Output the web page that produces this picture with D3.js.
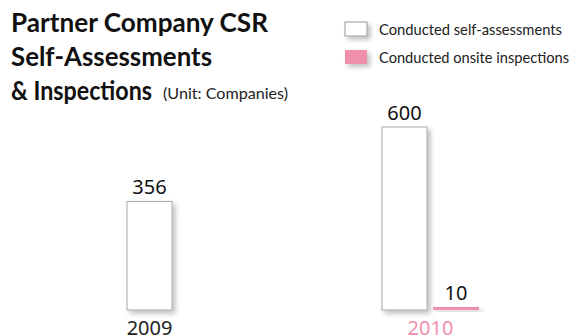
<!DOCTYPE html>
<html>
<head>
<meta charset="utf-8">
<script src="https://cdn.jsdelivr.net/npm/d3@7"></script>
<style>
  html, body { margin: 0; padding: 0; background: #fff; }
  svg { display: block; }
</style>
</head>
<body>
<div id="chart"></div>
<script>
// Partner company CSR activity by year
const years = ["2009", "2010"];
const selfAssessments = [356, 600];
const onsiteInspections = [null, 10];
const seriesNames = ["Conducted self-assessments", "Conducted onsite inspections"];
const titleLines = ["Partner Company CSR", "Self-Assessments", "& Inspections"];
const unitLabel = "(Unit: Companies)";

const W = 576, H = 336;
const pink = "#f08fab";
const svg = d3.select("#chart").append("svg").attr("width", W).attr("height", H);

const defs = svg.append("defs");
const f = defs.append("filter").attr("id", "shadow")
  .attr("x", "-30%").attr("y", "-30%").attr("width", "180%").attr("height", "180%");
f.append("feDropShadow").attr("dx", 3).attr("dy", 3).attr("stdDeviation", 2.5)
  .attr("flood-color", "#000").attr("flood-opacity", 0.25);

// Title
const title = svg.append("g").attr("font-family", "Lato, sans-serif")
  .attr("font-weight", 700).attr("fill", "#111");
const titleBase = [32, 66, 100];
const titleWidths = [257, 201, 141];
titleLines.forEach((t, i) => {
  title.append("text").attr("x", 11).attr("y", titleBase[i])
    .attr("font-size", 26).attr("textLength", titleWidths[i])
    .attr("lengthAdjust", "spacingAndGlyphs").text(t);
});
svg.append("text").attr("x", 163).attr("y", 99)
  .attr("font-family", "Lato, sans-serif").attr("font-size", 15)
  .attr("fill", "#222").attr("textLength", 125).attr("lengthAdjust", "spacingAndGlyphs")
  .text(unitLabel);

// Legend
const legend = svg.append("g");
const legendRows = [
  { y: 22, fill: "#fff", stroke: "#999", width: 183 },
  { y: 50, fill: pink, stroke: "none", width: 190 }
];
legendRows.forEach((r, i) => {
  legend.append("rect").attr("x", 345).attr("y", r.y).attr("width", 22).attr("height", 14)
    .attr("fill", r.fill).attr("stroke", r.stroke).attr("filter", "url(#shadow)");
  legend.append("text").attr("x", 379).attr("y", r.y + 13)
    .attr("font-family", "Lato, sans-serif").attr("font-size", 15).attr("fill", "#222")
    .attr("textLength", r.width).attr("lengthAdjust", "spacingAndGlyphs")
    .text(seriesNames[i]);
});

// Scales
const baseY = 310;
const y = d3.scaleLinear().domain([0, 600]).range([baseY, 127]);
const x = d3.scaleBand().domain(years).range([127, 637]).paddingInner(0).paddingOuter(0);
const barW = 45, gap = 6, pinkW = 46;

const groups = svg.append("g").selectAll("g").data(years).join("g")
  .attr("transform", d => `translate(${x(d)},0)`);

years.forEach((yr, i) => {
  const g = groups.filter(d => d === yr);
  const vS = selfAssessments[i];
  const vO = onsiteInspections[i];
  g.append("rect").attr("x", 0).attr("y", y(vS)).attr("width", barW)
    .attr("height", baseY - y(vS)).attr("fill", "#fff").attr("stroke", "#a8a8a8")
    .attr("stroke-width", 1).attr("filter", "url(#shadow)");
  g.append("text").attr("x", barW / 2).attr("y", y(vS) - 7).attr("text-anchor", "middle")
    .attr("font-family", "'Noto Sans', sans-serif").attr("font-size", 20).attr("fill", "#111")
    .text(vS);
  let center = barW / 2;
  if (vO != null) {
    const ox = barW + gap;
    g.append("rect").attr("x", ox).attr("y", y(vO)).attr("width", pinkW)
      .attr("height", baseY - y(vO)).attr("fill", pink).attr("filter", "url(#shadow)");
    g.append("text").attr("x", ox + pinkW / 2).attr("y", y(vO) - 7).attr("text-anchor", "middle")
      .attr("font-family", "'Noto Sans', sans-serif").attr("font-size", 20).attr("fill", "#111")
      .text(vO);
    center = (barW + gap + pinkW) / 2;
  }
  g.append("text").attr("x", center).attr("y", 335).attr("text-anchor", "middle")
    .attr("font-family", "'Noto Sans', sans-serif").attr("font-size", 20)
    .attr("fill", i === 1 ? pink : "#222").text(yr);
});
</script>
</body>
</html>
